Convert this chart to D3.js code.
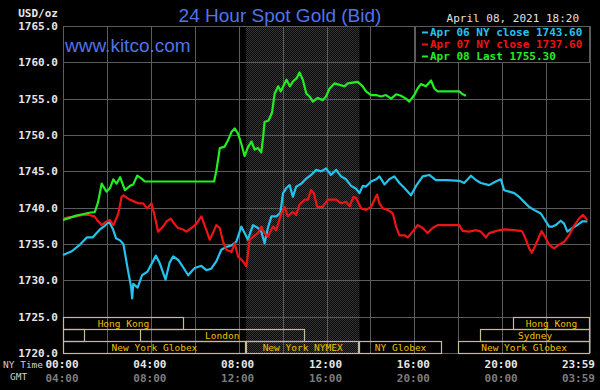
<!DOCTYPE html>
<html>
<head>
<meta charset="utf-8">
<script src="https://cdnjs.cloudflare.com/ajax/libs/d3/7.8.5/d3.min.js"></script>
<style>
  body { margin: 0; background: #000; }
  svg { display: block; }
  .mono { font-family: "DejaVu Sans Mono", monospace; }
</style>
</head>
<body>
<svg id="chart" width="600" height="390"></svg>
<script>
// hours after NY midnight, price in USD/oz
var apr06 = [[0,1733.5],[0.4,1734.0],[0.77,1734.9],[1.08,1735.9],[1.35,1735.9],[1.5,1736.4],[1.68,1737.0],[1.9,1737.5],
  [2.1,1738.1],[2.28,1737.0],[2.41,1735.8],[2.6,1735.5],[2.75,1735.0],[2.95,1731.5],[3.1,1729.1],[3.15,1727.5],[3.2,1729.5],
  [3.4,1729.0],[3.6,1730.7],[3.85,1731.2],[4.23,1733.4],[4.4,1732.4],[4.67,1730.1],[4.85,1732.4],[5.02,1733.3],[5.25,1732.8],
  [5.45,1731.9],[5.7,1730.7],[5.9,1731.4],[6.0,1731.7],[6.3,1732.0],[6.53,1731.4],[6.75,1731.6],[6.98,1732.6],[7.21,1734.2],
  [7.44,1734.6],[7.67,1734.8],[7.89,1735.3],[8.12,1737.4],[8.27,1736.5],[8.42,1735.6],[8.65,1737.6],[8.88,1737.2],[9.03,1736.7],
  [9.18,1735.1],[9.33,1737.2],[9.49,1738.8],[9.72,1738.8],[9.9,1739.3],[10.02,1742.0],[10.17,1742.7],[10.32,1743.1],[10.47,1741.5],
  [10.62,1742.9],[10.85,1743.3],[11.08,1744.0],[11.3,1744.5],[11.53,1745.2],[11.75,1745.0],[11.98,1745.4],[12.2,1744.5],
  [12.44,1745.2],[12.66,1744.3],[12.89,1743.9],[13.12,1743.0],[13.35,1742.6],[13.5,1742.0],[13.65,1743.0],[13.8,1742.9],
  [14.03,1743.6],[14.26,1743.9],[14.41,1744.3],[14.64,1743.2],[14.86,1743.9],[15.09,1744.3],[15.32,1743.4],[15.55,1742.7],
  [15.85,1741.7],[16.08,1743.0],[16.38,1744.3],[16.68,1744.5],[16.98,1743.8],[17.5,1743.8],[18.05,1743.7],[18.27,1743.4],
  [18.58,1744.4],[18.8,1743.8],[19.03,1743.4],[19.41,1743.1],[19.71,1743.6],[19.94,1743.9],[20.09,1742.4],[20.32,1742.2],
  [20.55,1742.0],[20.77,1741.5],[21.0,1740.8],[21.23,1740.1],[21.45,1739.7],[21.76,1739.2],[21.95,1738.3],[22.14,1737.4],
  [22.29,1737.4],[22.44,1737.6],[22.67,1738.2],[22.82,1737.8],[22.97,1736.7],[23.2,1737.2],[23.42,1737.6],[23.65,1738.1],[23.88,1738.1]];

var apr07 = [[0,1738.5],[0.3,1738.7],[0.6,1738.8],[0.9,1739.0],[1.2,1739.0],[1.43,1738.8],[1.61,1738.1],[1.76,1737.6],
  [1.98,1738.1],[2.14,1738.3],[2.3,1737.6],[2.52,1739.2],[2.67,1741.5],[2.75,1741.7],[2.98,1741.2],[3.2,1740.9],[3.43,1740.6],
  [3.65,1740.6],[3.83,1739.9],[4.03,1740.6],[4.18,1738.8],[4.33,1736.7],[4.56,1737.4],[4.71,1738.1],[4.91,1738.5],[5.09,1737.7],
  [5.24,1737.2],[5.47,1737.0],[5.62,1736.7],[5.85,1737.2],[6.08,1737.8],[6.3,1738.8],[6.53,1736.9],[6.68,1735.6],[6.83,1736.5],
  [6.98,1737.6],[7.14,1737.2],[7.29,1735.3],[7.44,1734.2],[7.67,1733.9],[7.82,1735.1],[7.97,1733.3],[8.2,1732.6],[8.35,1731.9],
  [8.5,1735.6],[8.65,1736.0],[8.88,1736.5],[9.03,1737.4],[9.18,1736.5],[9.33,1736.0],[9.56,1737.4],[9.71,1736.9],[9.94,1739.2],
  [10.09,1740.1],[10.24,1738.8],[10.47,1739.4],[10.62,1739.0],[10.77,1740.4],[11.0,1741.1],[11.15,1741.1],[11.3,1742.4],
  [11.42,1742.0],[11.58,1740.1],[11.83,1740.1],[12.06,1741.1],[12.44,1741.1],[12.67,1740.6],[12.89,1740.8],[13.05,1740.2],
  [13.23,1741.5],[13.35,1741.3],[13.58,1739.9],[13.8,1739.7],[14.03,1740.1],[14.18,1741.1],[14.3,1741.8],[14.41,1740.6],
  [14.56,1739.9],[14.79,1739.7],[15.02,1739.2],[15.17,1737.4],[15.32,1736.2],[15.55,1736.2],[15.7,1735.9],[15.92,1736.7],
  [16.15,1737.6],[16.38,1737.2],[16.6,1736.5],[16.83,1737.2],[17.06,1737.6],[18.05,1737.6],[18.2,1736.8],[18.5,1736.7],
  [18.8,1736.9],[19.03,1736.7],[19.26,1735.9],[19.41,1736.5],[19.64,1736.7],[19.86,1736.9],[20.17,1737.0],[20.48,1736.9],
  [20.86,1736.8],[20.92,1736.7],[21.08,1735.6],[21.23,1734.4],[21.35,1733.8],[21.53,1734.9],[21.68,1736.0],[21.8,1736.8],
  [21.95,1736.0],[22.14,1734.9],[22.36,1734.4],[22.59,1734.9],[22.82,1735.3],[23.05,1736.2],[23.27,1737.5],[23.5,1738.5],
  [23.68,1739.0],[23.88,1738.3]];

var apr08 = [[0,1738.3],[0.3,1738.6],[0.6,1738.9],[0.9,1739.1],[1.2,1739.3],[1.45,1739.4],[1.6,1740.8],[1.76,1743.3],
  [1.98,1742.2],[2.14,1742.7],[2.29,1743.9],[2.44,1743.3],[2.6,1744.2],[2.82,1742.4],[3.05,1743.0],[3.2,1743.2],[3.38,1744.4],
  [3.58,1744.0],[3.73,1743.6],[6.88,1743.6],[6.98,1745.0],[7.14,1748.2],[7.36,1748.4],[7.52,1749.3],[7.67,1750.4],[7.82,1750.9],
  [7.97,1750.2],[8.12,1748.8],[8.27,1747.1],[8.42,1748.3],[8.58,1749.1],[8.73,1748.0],[8.88,1748.2],[9.03,1747.6],[9.11,1749.6],
  [9.18,1751.8],[9.36,1752.0],[9.52,1753.1],[9.64,1755.7],[9.8,1756.7],[9.92,1756.0],[10.03,1756.7],[10.18,1757.6],[10.33,1756.7],
  [10.48,1757.4],[10.64,1757.8],[10.77,1758.6],[10.92,1757.6],[11.08,1755.7],[11.23,1755.3],[11.38,1754.6],[11.6,1755.1],
  [11.83,1754.8],[11.98,1755.3],[12.14,1756.4],[12.36,1757.1],[12.59,1756.9],[12.82,1756.7],[12.97,1757.1],[13.2,1757.2],
  [13.42,1757.3],[13.65,1756.7],[13.8,1756.0],[14.03,1755.5],[14.26,1755.5],[14.48,1755.3],[14.71,1755.5],[14.94,1755.0],
  [15.17,1755.6],[15.39,1755.4],[15.62,1755.0],[15.77,1754.6],[16.0,1755.5],[16.15,1756.4],[16.3,1757.0],[16.53,1756.7],
  [16.76,1757.5],[16.91,1756.4],[17.06,1756.0],[18.05,1756.0],[18.2,1755.6],[18.35,1755.4]];

var yTicks = [1720,1725,1730,1735,1740,1745,1750,1755,1760,1765];
var xTicks = [0,2,4,6,8,10,12,14,16,18,20,22,24];
var nyLabels = [[0,"00:00"],[4,"04:00"],[8,"08:00"],[12,"12:00"],[16,"16:00"],[20,"20:00"],[24,"23:59"]];
var gmtLabels = ["04:00","08:00","12:00","16:00","20:00","00:00","03:59"];

var legendLabels = ["Apr 06 NY close 1743.60","Apr 07 NY close 1737.60","Apr 08 Last 1755.30"];
var colors = ["#22c4ee","#ee1414","#22ee22"];

// trading sessions: [row, start hour, end hour, label]
var sessions = [
  [0, 0, 5.5, "Hong Kong"], [0, 20.5, 24, "Hong Kong"],
  [1, 0, 1, ""], [1, 3.5, 11, "London"], [1, 19, 24, "Sydney"],
  [2, 0, 8.33, "New York Globex"], [2, 8.33, 13.5, "New York NYMEX"],
  [2, 13.5, 17.25, "NY Globex"], [2, 18, 24, "New York Globex"]
];
var nymex = [8.33, 13.5];

var svg = d3.select("#chart");
var x = d3.scaleLinear().domain([0, 24]).range([63, 590]);
var y = d3.scaleLinear().domain([1720, 1765]).range([353, 26]);
var row = d3.scaleBand().domain([0, 1, 2]).range([317, 353]);

svg.append("rect").attr("width", 600).attr("height", 390).attr("fill", "#000");

// dithered band for the NYMEX session
var pat = svg.append("defs").append("pattern").attr("id", "dither")
  .attr("width", 2).attr("height", 2).attr("patternUnits", "userSpaceOnUse");
pat.append("rect").attr("width", 2).attr("height", 2).attr("fill", "#080808");
pat.append("rect").attr("width", 1).attr("height", 1).attr("fill", "#363636");
pat.append("rect").attr("x", 1).attr("y", 1).attr("width", 1).attr("height", 1).attr("fill", "#363636");

svg.append("rect")
  .attr("x", x(nymex[0])).attr("y", y(1765))
  .attr("width", x(nymex[1]) - x(nymex[0])).attr("height", y(1720) - y(1765))
  .attr("fill", "url(#dither)");

// grid
var grid = svg.append("g").attr("stroke", "#5c5c5c").attr("stroke-width", 1);
grid.selectAll(".h").data(yTicks).join("line")
  .attr("x1", x(0)).attr("x2", x(24))
  .attr("y1", d => Math.round(y(d)) + 0.5).attr("y2", d => Math.round(y(d)) + 0.5);
grid.selectAll(".v").data(xTicks).join("line")
  .attr("y1", y(1765)).attr("y2", y(1720))
  .attr("x1", d => Math.round(x(d)) + 0.5).attr("x2", d => Math.round(x(d)) + 0.5);

// y labels
svg.append("g").selectAll("text").data(yTicks).join("text")
  .attr("class", "mono")
  .attr("x", 58).attr("y", d => y(d)).attr("dy", "0.35em")
  .attr("text-anchor", "end").attr("font-size", 11).attr("font-weight", "bold")
  .attr("fill", "#e6e6e6")
  .text(d => d.toFixed(1));

svg.append("text").attr("class", "mono").attr("x", 58).attr("y", 17)
  .attr("text-anchor", "end").attr("font-size", 11).attr("font-weight", "bold")
  .attr("fill", "#e6e6e6").text("USD/oz");

// session boxes
var sess = svg.append("g");
sess.selectAll("rect").data(sessions).join("rect")
  .attr("x", d => Math.round(x(d[1])) + 0.5)
  .attr("y", d => Math.round(row(d[0])) + 0.5)
  .attr("width", d => Math.round(x(d[2])) - Math.round(x(d[1])) - 1)
  .attr("height", d => Math.round(row.bandwidth()))
  .attr("fill", "none").attr("stroke", "#c4bc94").attr("stroke-width", 1.2);
sess.selectAll("text").data(sessions).join("text")
  .attr("class", "mono")
  .attr("x", d => (x(d[1]) + x(d[2])) / 2)
  .attr("y", d => row(d[0]) + row.bandwidth() / 2 + 1)
  .attr("dy", "0.35em").attr("text-anchor", "middle")
  .attr("font-size", 9.5).attr("fill", "#f0c000")
  .text(d => d[3]);

// price lines
var line = d3.line().x(d => x(d[0])).y(d => y(d[1]));
svg.append("g").selectAll("path").data([apr06, apr07, apr08]).join("path")
  .attr("d", line).attr("fill", "none")
  .attr("stroke", (d, i) => colors[i]).attr("stroke-width", 2.2)
  .attr("stroke-linejoin", "round");

// legend
svg.append("rect").attr("x", 415.5).attr("y", 26.5).attr("width", 174).attr("height", 36)
  .attr("fill", "#000").attr("stroke", "#5c5c5c");
var leg = svg.append("g");
leg.selectAll("line").data(legendLabels).join("line")
  .attr("x1", 422).attr("x2", 428)
  .attr("y1", (d, i) => 32.5 + i * 12).attr("y2", (d, i) => 32.5 + i * 12)
  .attr("stroke", (d, i) => colors[i]).attr("stroke-width", 2);
leg.selectAll("text").data(legendLabels).join("text")
  .attr("class", "mono").attr("x", 430).attr("y", (d, i) => 32 + i * 12).attr("dy", "0.35em")
  .attr("font-size", 11).attr("font-weight", "bold")
  .attr("fill", (d, i) => colors[i]).text(d => d);

// titles
svg.append("text").attr("x", 280).attr("y", 22).attr("text-anchor", "middle")
  .attr("font-family", "'Liberation Sans', Arial, sans-serif").attr("font-size", 19)
  .attr("fill", "#4f74ec").text("24 Hour Spot Gold (Bid)");
svg.append("text").attr("x", 65).attr("y", 52)
  .attr("font-family", "'Liberation Sans', Arial, sans-serif").attr("font-size", 19)
  .attr("fill", "#4f74ec").text("www.kitco.com");
svg.append("text").attr("class", "mono").attr("x", 579).attr("y", 18).attr("dy", "0.35em")
  .attr("text-anchor", "end").attr("font-size", 11).attr("fill", "#e0e0e0")
  .text("April 08, 2021 18:20");

// time axis labels
svg.append("text").attr("class", "mono").attr("x", 3).attr("y", 365).attr("dy", "0.35em")
  .attr("font-size", 9.5).attr("fill", "#d0d0d0").text("NY Time");
svg.append("text").attr("class", "mono").attr("x", 10).attr("y", 377).attr("dy", "0.35em")
  .attr("font-size", 9.5).attr("fill", "#d0d0d0").text("GMT");

var tl = svg.append("g");
tl.selectAll(".ny").data(nyLabels).join("text")
  .attr("class", "mono")
  .attr("x", (d, i) => i === nyLabels.length - 1 ? x(d[0]) + 5 : x(d[0]) - 1)
  .attr("y", 364).attr("dy", "0.35em")
  .attr("text-anchor", (d, i) => i === nyLabels.length - 1 ? "end" : "middle")
  .attr("font-size", 11).attr("font-weight", "bold").attr("fill", "#e6e6e6")
  .text(d => d[1]);
tl.selectAll(".gmt").data(gmtLabels).join("text")
  .attr("class", "mono")
  .attr("x", (d, i) => i === gmtLabels.length - 1 ? x(nyLabels[i][0]) + 5 : x(nyLabels[i][0]) - 1)
  .attr("y", 378).attr("dy", "0.35em")
  .attr("text-anchor", (d, i) => i === gmtLabels.length - 1 ? "end" : "middle")
  .attr("font-size", 11).attr("font-weight", "bold").attr("fill", "#7c7c7c")
  .text(d => d);
</script>
</body>
</html>
